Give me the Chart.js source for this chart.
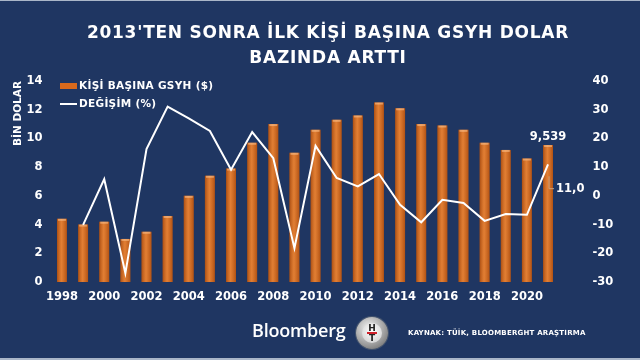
<!DOCTYPE html>
<html>
<head>
<meta charset="utf-8">
<script src="https://cdn.jsdelivr.net/npm/chart.js@4"></script>
<style>
  html, body { margin: 0; padding: 0; }
  body { width: 640px; height: 360px; background: #1f3662; overflow: hidden; position: relative;
         font-family: "DejaVu Sans", Verdana, sans-serif; color: #fff; }
  #wrap { position: absolute; left: 0; top: 0; width: 640px; height: 360px; }
  .edge { position: absolute; left: 0; width: 640px; background: #aab6c8; }
  .title { position: absolute; left: 8px; top: 20px; width: 640px; text-align: center;
           font-weight: bold; font-size: 17px; line-height: 25px; letter-spacing: 0.75px; }
  .legend { position: absolute; left: 60px; font-weight: bold; font-size: 10.5px; line-height: 12px;
            white-space: nowrap; letter-spacing: 0.3px; }
  .legend span.sw { display: inline-block; width: 17px; vertical-align: middle; margin-right: 2px; }
  .brand { position: absolute; left: 252px; top: 318px; font-family: "Open Sans", sans-serif;
           font-weight: 600; font-size: 18px; letter-spacing: -0.2px; }
  .ht { position: absolute; left: 356px; top: 317px; width: 32px; height: 32px; border-radius: 50%;
        background: radial-gradient(circle at 40% 35%, #f4f4f4, #9a9a9a 60%, #5a5a5a);
        box-shadow: 0 0 0 1px #44546e; }
  .ht .in { position: absolute; left: 6px; top: 6px; width: 20px; height: 20px; border-radius: 50%;
            background: radial-gradient(circle at 50% 40%, #ffffff, #c9c9c9);
            font-family: "DejaVu Sans", sans-serif; font-weight: bold; color: #222; text-align: center; }
  .ht .h { position: absolute; left: 0; top: 1px; width: 20px; font-size: 9px; line-height: 9px; }
  .ht .bar { position: absolute; left: 5px; top: 9px; width: 10px; height: 2px; background: #d0202a; }
  .ht .t { position: absolute; left: 0; top: 11px; width: 20px; font-size: 9px; line-height: 9px; }
  .source { position: absolute; left: 408px; top: 329px; font-weight: bold; font-size: 7px;
            white-space: nowrap; letter-spacing: 0.22px; }
</style>
</head>
<body>
<div id="wrap"><canvas id="chart"></canvas></div>
<div class="edge" style="top:0;height:1px"></div>
<div class="edge" style="top:358px;height:2px"></div>
<div class="title">2013'TEN SONRA İLK KİŞİ BAŞINA GSYH DOLAR<br>BAZINDA ARTTI</div>
<div class="legend" style="top:79px"><span class="sw" style="height:6px;background:#d8691c"></span>KİŞİ BAŞINA GSYH ($)</div>
<div class="legend" style="top:97px"><span class="sw" style="height:2px;background:#fff"></span>DEĞİŞİM (%)</div>
<div class="brand">Bloomberg</div>
<div class="ht"><div class="in"><div class="h">H</div><div class="bar"></div><div class="t">T</div></div></div>
<div class="source">KAYNAK: TÜİK, BLOOMBERGHT ARAŞTIRMA</div>
<script>
  // ─── Data ──────────────────────────────────────────────
  var years = ['1998', '1999', '2000', '2001', '2002', '2003', '2004', '2005', '2006', '2007', '2008', '2009',
               '2010', '2011', '2012', '2013', '2014', '2015', '2016', '2017', '2018', '2019', '2020', '2021'];
  // kişi başına GSYH, bin dolar
  var gdpPerCapita = [4.4, 4.0, 4.2, 3.0, 3.5, 4.6, 6.0, 7.4, 7.9, 9.7, 11.0, 9.0,
                      10.6, 11.3, 11.6, 12.5, 12.1, 11.0, 10.9, 10.6, 9.7, 9.2, 8.6, 9.539];
  // yıllık değişim, %
  var changePct = [null, -10.1, 5.8, -26.9, 16.3, 31.1, 27.0, 22.6, 9.1, 22.2, 13.1, -18.2,
                   17.4, 6.2, 3.3, 7.6, -3.1, -9.2, -1.4, -2.5, -8.7, -6.3, -6.6, 11.0];
  var leftTicks = [0, 2, 4, 6, 8, 10, 12, 14];
  var rightTicks = [-30, -20, -10, 0, 10, 20, 30, 40];

  var BAR = '#d8691c';
  var tickFont = { family: 'DejaVu Sans', weight: 'bold', size: 11.5 };

  // ─── Plugins ──────────────────────────────────────────
  // silindir görünümü: çubukların üstüne parlaklık
  var barShine = {
    id: 'barShine',
    afterDatasetDraw: function (chart, args) {
      if (args.index !== 0) return;
      var c = chart.ctx;
      args.meta.data.forEach(function (el) {
        var l = el.x - el.width / 2, w = el.width;
        var g = c.createLinearGradient(l, 0, l + w, 0);
        g.addColorStop(0, 'rgba(90,30,0,0.35)');
        g.addColorStop(0.45, 'rgba(255,190,120,0.25)');
        g.addColorStop(1, 'rgba(90,30,0,0.30)');
        c.save();
        c.fillStyle = g;
        c.fillRect(l, el.y, w, el.base - el.y);
        c.fillStyle = 'rgba(255,200,150,0.55)';
        c.fillRect(l + 1, el.y, w - 2, 2);
        c.restore();
      });
    }
  };

  // son değer etiketleri
  var lastLabels = {
    id: 'lastLabels',
    afterDatasetsDraw: function (chart) {
      var c = chart.ctx;
      var bar = chart.getDatasetMeta(0).data[years.length - 1];
      var pt = chart.getDatasetMeta(1).data[years.length - 1];
      var lblY = chart.scales.y1.getPixelForValue(2.5);
      c.save();
      c.fillStyle = '#fff';
      c.font = 'bold 11.5px "DejaVu Sans"';
      c.textAlign = 'center';
      c.textBaseline = 'middle';
      c.fillText('9,539', bar.x, bar.y - 8);
      c.strokeStyle = '#c9a27e';
      c.lineWidth = 1;
      c.beginPath();
      c.moveTo(pt.x + 1, pt.y + 12);
      c.lineTo(pt.x + 1, lblY);
      c.lineTo(pt.x + 6, lblY);
      c.stroke();
      c.textAlign = 'left';
      c.fillText(changePct[changePct.length - 1].toFixed(1).replace('.', ','), pt.x + 8, lblY);
      c.restore();
    }
  };

  // ─── Chart ────────────────────────────────────────────
  new Chart(document.getElementById('chart'), {
    data: {
      labels: years,
      datasets: [{
        type: 'bar',
        label: 'KİŞİ BAŞINA GSYH ($)',
        data: gdpPerCapita,
        yAxisID: 'y',
        backgroundColor: BAR,
        categoryPercentage: 1,
        barPercentage: 0.47,
        order: 1,
      }, {
        type: 'line',
        label: 'DEĞİŞİM (%)',
        data: changePct,
        yAxisID: 'y1',
        borderColor: '#fff',
        borderWidth: 2,
        pointRadius: 0,
        tension: 0,
        order: 0,
      }],
    },
    options: {
      responsive: true,
      maintainAspectRatio: false,
      animation: false,
      layout: { padding: { top: 81, left: 0, right: 0, bottom: 0 } },
      plugins: { legend: { display: false }, tooltip: { enabled: false } },
      scales: {
        x: {
          offset: true,
          grid: { display: false, drawTicks: false },
          border: { display: false },
          ticks: {
            color: '#fff', font: tickFont, padding: 8, autoSkip: false, maxRotation: 0,
            callback: function (v, i) { return i % 2 === 0 ? years[i] : ''; },
          },
          afterFit: function (s) { s.height = 78; },
        },
        y: {
          position: 'left',
          min: 0, max: 14,
          afterBuildTicks: function (s) { s.ticks = leftTicks.map(function (v) { return { value: v }; }); },
          grid: { display: false, drawTicks: false },
          border: { display: false },
          ticks: { color: '#fff', font: tickFont, padding: 9 },
          title: {
            display: true, text: 'BİN DOLAR', color: '#fff', align: 'end',
            font: { family: 'DejaVu Sans', weight: 'bold', size: 10.5 },
            padding: { top: 12, bottom: 0 },
          },
          afterFit: function (s) { s.width = 51.4; },
        },
        y1: {
          position: 'right',
          min: -30, max: 40,
          afterBuildTicks: function (s) { s.ticks = rightTicks.map(function (v) { return { value: v }; }); },
          grid: { display: false, drawTicks: false },
          border: { display: false },
          ticks: { color: '#fff', font: tickFont, padding: 34 },
          afterFit: function (s) { s.width = 81.4; },
        },
      },
    },
    plugins: [barShine, lastLabels],
  });
</script>
</body>
</html>
